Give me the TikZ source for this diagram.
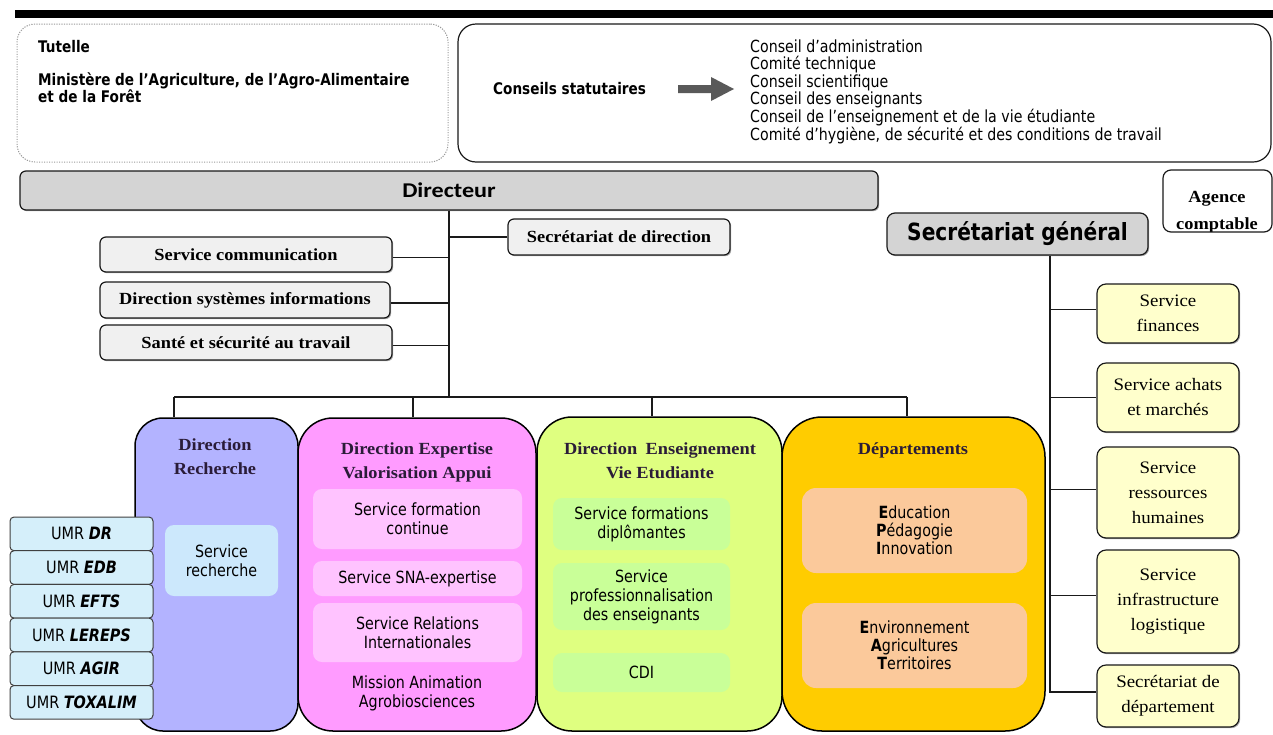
\documentclass[tikz,border=0pt]{standalone}
\usepackage{fontspec}
\setmainfont{Liberation Serif}
\newfontfamily\sansf[FakeStretch=0.85]{DejaVu Sans}
\newfontfamily\serw[FakeStretch=1.08]{Liberation Serif}
\newfontfamily\carl[FakeStretch=1.15]{Carlito}
\usetikzlibrary{shadows}
\definecolor{grayD}{HTML}{D4D4D4}
\definecolor{grayL}{HTML}{F0F0F0}
\definecolor{yelL}{HTML}{FFFFCC}
\definecolor{purp}{HTML}{B3B3FF}
\definecolor{pinkB}{HTML}{FF9BFF}
\definecolor{pinkI}{HTML}{FFC3FF}
\definecolor{grnB}{HTML}{DFFF80}
\definecolor{grnI}{HTML}{C9FF98}
\definecolor{orgB}{HTML}{FFCC00}
\definecolor{orgI}{HTML}{FBC99B}
\definecolor{umrB}{HTML}{D5EFFA}
\definecolor{srchI}{HTML}{CCE8FC}
\definecolor{arrG}{HTML}{595959}
\definecolor{lineK}{HTML}{1A1A1A}
\definecolor{ttlC}{HTML}{2A1C38}
\begin{document}
\begin{tikzpicture}[x=1pt,y=-1pt,
  wh/.style 2 args={minimum width=#1pt, minimum height=#2pt},
  box/.style={draw=lineK, line width=1.2pt, inner sep=0pt, align=center},
  shad/.style={drop shadow={shadow xshift=1.2pt, shadow yshift=-1.2pt, fill=black, opacity=0.35}},
  conn/.style={draw=lineK, line width=1.3pt},
  big/.style={draw=black, line width=1.5pt, inner sep=0pt},
  innerbox/.style={inner sep=0pt, align=center, rounded corners=9pt},
  sf/.style={font=\sansf\fontsize{16.8}{19}\selectfont, inner sep=0pt},
  sfl/.style={font=\sansf\fontsize{16.7}{19}\selectfont, inner sep=0pt},
  sfb/.style={font=\sansf\bfseries\fontsize{16}{19}\selectfont, inner sep=0pt},
  lbox/.style={box, shad, fill=grayL, rounded corners=6pt, font=\serw\bfseries\fontsize{17}{20}\selectfont},
  ybox/.style={box, shad, fill=yelL, rounded corners=9pt, font=\serw\fontsize{17.5}{25}\selectfont},
  ttl/.style={font=\serw\bfseries\fontsize{17}{24}\selectfont, text=ttlC, inner sep=0pt, align=center},
]
\useasboundingbox (0,0) rectangle (1273,734);
\fill[white] (0,0) rectangle (1273,734);
% top bar
\fill[black] (15,10) rectangle (1273,18);
% Tutelle
\node[box, draw=gray!80, line width=1pt, dash pattern=on 1.2pt off 1.3pt, rounded corners=18pt, wh={431}{138}] (tut) at (232.5,93) {};
\node[sfb, anchor=base west] (tutA) at (38,52) {Tutelle};
\node[sfb, anchor=base west] (tutB) at (38,85) {Ministère de l’Agriculture, de l’Agro-Alimentaire};
\node[sfb, anchor=base west] (tutC) at (38,102) {et de la Forêt};
% Conseils
\node[box, rounded corners=18pt, wh={813}{138}] (cons) at (864.5,93) {};
\node[sfb, anchor=base west] (consT) at (493,94) {Conseils statutaires};
\fill[arrG] (678,85) -- (711,85) -- (711,77) -- (734,89) -- (711,101) -- (711,93) -- (678,93) -- cycle;
\foreach \t [count=\i] in {Conseil d’administration, Comité technique, Conseil scientifique, Conseil des enseignants, Conseil de l’enseignement et de la vie étudiante, {Comité d’hygiène, de sécurité et des conditions de travail}}
  \node[sfl, anchor=base west] (cl\i) at (750, {34.4+17.6*\i}) {\t};
% Directeur
\node[box, shad, fill=grayD, rounded corners=6pt, wh={858}{39}, font=\carl\bfseries\fontsize{21}{24}\selectfont] (dir) at (449,190.5) {Directeur};
% Agence comptable
\begin{scope}
\clip[rounded corners=8pt] (1163,170) rectangle (1272,231);
\node[font=\serw\bfseries\fontsize{17}{24}\selectfont, inner sep=0pt, anchor=base] (agA) at (1217,202) {Agence};
\node[font=\serw\bfseries\fontsize{17}{24}\selectfont, inner sep=0pt, anchor=base] (agB) at (1217,229) {comptable};
\end{scope}
\node[box, rounded corners=8pt, wh={109}{62}] (ag) at (1217.5,201) {};
% Secretariat general
\node[box, shad, fill=grayD, rounded corners=8pt, wh={261}{42}, font=\sansf\bfseries\fontsize{23.7}{26}\selectfont] (sg) at (1017.5,234) {Secrétariat général};
% left services
\node[lbox, wh={292}{35}] (scom) at (246,254.5) {Service communication};
\node[lbox, wh={290}{36}] (dsi) at (245,300) {Direction systèmes informations};
\node[lbox, wh={292}{35}] (sst) at (246,342.5) {Santé et sécurité au travail};
\node[lbox, wh={222}{36}] (sdir) at (619,237) {Secrétariat de direction};
% connectors director
\coordinate (bus) at (449,397);
\coordinate (b1) at (174,397);
\coordinate (b2) at (413,397);
\coordinate (b3) at (652,397);
\coordinate (b4) at (907,397);
\draw[conn] (dir.south) -- (bus);
\draw[conn] (sdir.west) -- (sdir.west -| bus);
\draw[conn] ([yshift=-3pt]scom.east) -- ([yshift=-3pt]scom.east -| bus);
\draw[conn] ([yshift=-3pt]dsi.east) -- ([yshift=-3pt]dsi.east -| bus);
\draw[conn] ([yshift=-3pt]sst.east) -- ([yshift=-3pt]sst.east -| bus);
\draw[conn] (b1) -- (b4);
% big boxes
\node[big, fill=purp, rounded corners=28pt, wh={163}{313}] (rech) at (216.5,574.5) {};
\node[big, fill=pinkB, rounded corners=35pt, wh={238}{313}] (exp) at (417,574.5) {};
\node[big, fill=grnB, rounded corners=35pt, wh={245}{314}] (ens) at (659.5,574) {};
\node[big, fill=orgB, rounded corners=40pt, wh={263}{314}] (dep) at (913.5,574) {};
\draw[conn] (b1) -- (b1 |- rech.north);
\draw[conn] (b2) -- (b2 |- exp.north);
\draw[conn] (b3) -- (b3 |- ens.north);
\draw[conn] (b4) -- (b4 |- dep.north);
% titles
\node[ttl] (rechT) at (215,457) {Direction\\Recherche};
\node[ttl] (expT) at (417,462) {Direction Expertise\\Valorisation Appui};
\node[ttl] (ensT) at (660,461) {Direction\enspace Enseignement\\Vie Etudiante};
\node[ttl] (depT) at (913,450) {Départements};
% inner boxes
\node[innerbox, fill=srchI, wh={113}{71}, sf] (srech) at (221.5,560.5) {Service\\recherche};
\node[innerbox, fill=pinkI, wh={209}{60}, sf] (sfc) at (417.5,519) {Service formation\\continue};
\node[innerbox, fill=pinkI, wh={209}{35}, sf] (ssna) at (417.5,578.5) {Service SNA-expertise};
\node[innerbox, fill=pinkI, wh={209}{59}, sf] (sri) at (417.5,632.5) {Service Relations\\Internationales};
\node[sf, align=center] (mis) at (417,693) {Mission Animation\\Agrobiosciences};
\node[innerbox, fill=grnI, wh={177}{52}, sf] (sfd) at (641.5,524) {Service formations\\diplômantes};
\node[innerbox, fill=grnI, wh={177}{67}, sf] (spe) at (641.5,596.5) {Service\\professionnalisation\\des enseignants};
\node[innerbox, fill=grnI, wh={177}{39}, sf] (cdi) at (641.5,672.5) {CDI};
\node[innerbox, fill=orgI, wh={225}{85}, rounded corners=14pt, sf, font=\sansf\fontsize{16.8}{18}\selectfont] (epi) at (914.5,530.5) {\textbf{E}ducation\\\textbf{P}édagogie\\\textbf{I}nnovation};
\node[innerbox, fill=orgI, wh={225}{85}, rounded corners=14pt, sf, font=\sansf\fontsize{16.8}{18}\selectfont] (eat) at (914.5,645.5) {\textbf{E}nvironnement\\\textbf{A}gricultures\\\textbf{T}erritoires};
% UMR
\foreach \n [count=\i] in {DR,EDB,EFTS,LEREPS,AGIR,TOXALIM}
  \node[box, draw=black!75, line width=1pt, fill=umrB, rounded corners=4pt, wh={143}{33.7}, sf, font=\sansf\fontsize{17}{19}\selectfont] (umr\i) at (81.5, {517+33.7*\i-16.85}) {UMR \textbf{\textit{\n}}};
% right services
\node[ybox, wh={142}{59}] (fin) at (1168,313.5) {Service\\finances};
\node[ybox, wh={142}{69}] (ach) at (1168,397.5) {Service achats\\et marchés};
\node[ybox, wh={142}{91}] (rh) at (1168,492.5) {Service\\ressources\\humaines};
\node[ybox, wh={142}{103}] (infra) at (1168,601.5) {Service\\infrastructure\\logistique};
\node[ybox, wh={142}{62}] (sdept) at (1168,696) {Secrétariat de\\département};
\coordinate (sgv) at (1050,0);
\draw[conn] (sg.south -| sgv) -- ([yshift=4pt]sdept.west -| sgv) -- ([yshift=4pt]sdept.west);
\draw[conn] ([yshift=4pt]fin.west -| sgv) -- ([yshift=4pt]fin.west);
\draw[conn] (ach.west -| sgv) -- (ach.west);
\draw[conn] ([yshift=3pt]rh.west -| sgv) -- ([yshift=3pt]rh.west);
\draw[conn] ([yshift=6pt]infra.west -| sgv) -- ([yshift=6pt]infra.west);
\end{tikzpicture}
\end{document}
